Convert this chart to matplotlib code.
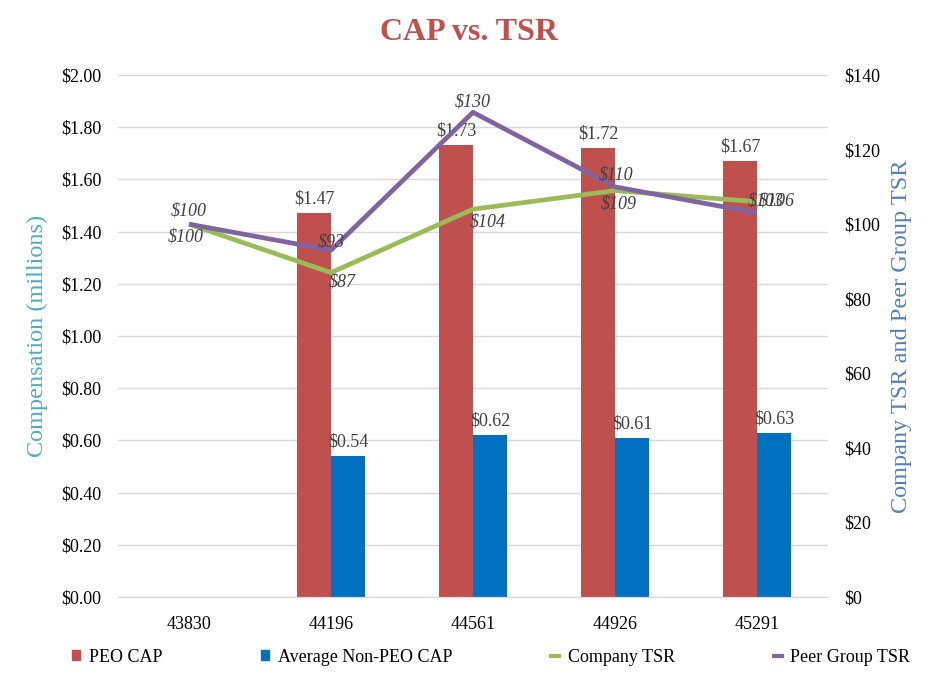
import matplotlib
matplotlib.use("Agg")
import matplotlib.pyplot as plt
from matplotlib.patches import Patch
from matplotlib.lines import Line2D
import numpy as np

plt.rcParams['font.family'] = ['Liberation Serif', 'DejaVu Serif']

categories = ["43830", "44196", "44561", "44926", "45291"]
peo_cap = [None, 1.47, 1.73, 1.72, 1.67]
non_peo_cap = [None, 0.54, 0.62, 0.61, 0.63]
company_tsr = [100, 87, 104, 109, 106]
peer_tsr = [100, 93, 130, 110, 103]

c_red = "#C0504D"
c_blue = "#0070C0"
c_green = "#9BBB59"
c_purple = "#8064A2"
c_text = "#404040"
fs = 13

fig = plt.figure(figsize=(9.38, 6.81), dpi=100)
ax = fig.add_axes([118/938, 1-597/681, 710/938, 522/681])
ax2 = ax.twinx()

x = np.arange(len(categories))
w = 0.24
for i in range(len(categories)):
    if peo_cap[i] is not None:
        ax.bar(x[i]-w/2, peo_cap[i], w, color=c_red, zorder=2)
        ax.annotate(f"${peo_cap[i]:.2f}", (x[i]-w/2, peo_cap[i]), xytext=(0, 4),
                    textcoords="offset points", ha="center", va="bottom", fontsize=fs, color=c_text)
    if non_peo_cap[i] is not None:
        ax.bar(x[i]+w/2, non_peo_cap[i], w, color=c_blue, zorder=2)
        ax.annotate(f"${non_peo_cap[i]:.2f}", (x[i]+w/2, non_peo_cap[i]), xytext=(0, 4),
                    textcoords="offset points", ha="center", va="bottom", fontsize=fs, color=c_text)

ax2.plot(x, company_tsr, color=c_green, lw=3.4, solid_capstyle="butt", zorder=3)
ax2.plot(x, peer_tsr, color=c_purple, lw=3.4, solid_capstyle="butt", zorder=4)

px = 1/1.389
comp_off = [(-3, -13), (11, -9), (15, -13), (4, -13), (20, 1)]
peer_off = [(0, 13), (0, 8), (0, 10), (1, 12), (9, 12)]
for i in range(len(categories)):
    ax2.annotate(f"${company_tsr[i]}", (x[i], company_tsr[i]),
                 xytext=(comp_off[i][0]*px, comp_off[i][1]*px), textcoords="offset points",
                 ha="center", va="center", fontsize=fs, style="italic", color=c_text, zorder=6)
    ax2.annotate(f"${peer_tsr[i]}", (x[i], peer_tsr[i]),
                 xytext=(peer_off[i][0]*px, peer_off[i][1]*px), textcoords="offset points",
                 ha="center", va="center", fontsize=fs, style="italic", color=c_text, zorder=6)

ax.set_xlim(-0.5, 4.5)
ax.set_ylim(0, 2.0)
ax.set_yticks(np.arange(0, 2.01, 0.2))
ax.set_yticklabels([f"${v:.2f}" for v in np.arange(0, 2.01, 0.2)], fontsize=fs)
ax2.set_ylim(0, 140)
ax2.set_yticks(np.arange(0, 141, 20))
ax2.set_yticklabels([f"${v}" for v in range(0, 141, 20)], fontsize=fs)
ax.set_xticks(x)
ax.set_xticklabels(categories, fontsize=fs)
ax.grid(axis="y", color="#D9D9D9", lw=1, zorder=0)
ax.set_axisbelow(True)
for a in (ax, ax2):
    for s in ["top", "left", "right"]:
        a.spines[s].set_visible(False)
    a.spines["bottom"].set_color("#D9D9D9")
    a.tick_params(length=0, colors="black")
ax.tick_params(axis="y", pad=12)
ax2.tick_params(axis="y", pad=11.5)
ax.tick_params(axis="x", pad=14)

ax.set_ylabel("Compensation (millions)", fontsize=17.5, color="#4BACC6", labelpad=9)
ax2.set_ylabel("Company TSR and Peer Group TSR", fontsize=17.5, color="#4F81BD", labelpad=8)

fig.text(0.5, 1-32/681, "CAP vs. TSR", ha="center", va="center", fontsize=23,
         fontweight="bold", color=c_red)

handles = [Patch(color=c_red), Patch(color=c_blue),
           Line2D([], [], color=c_green, lw=3), Line2D([], [], color=c_purple, lw=3)]
labels = ["PEO CAP", "Average Non-PEO CAP", "Company TSR", "Peer Group TSR"]
fig.legend(handles, labels, loc="center left", bbox_to_anchor=(56/938, 1-657/681), ncol=4,
           frameon=False, fontsize=fs, handlelength=0.45, handleheight=0.45,
           handletextpad=0.45, columnspacing=5.5)

fig.savefig("out.png", dpi=100)
